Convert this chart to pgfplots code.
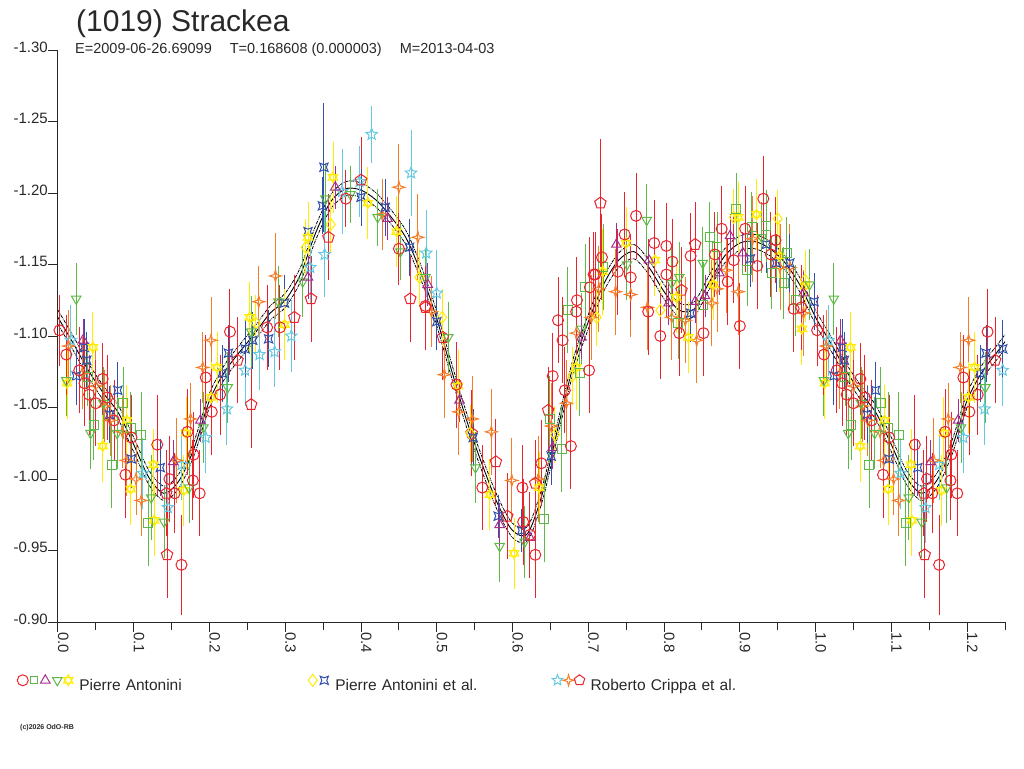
\documentclass[border=0pt]{standalone}
\usepackage{pgfplots}
\pgfplotsset{compat=1.18}
\usepackage{pgfplotstable}
\usepackage{fontspec}
\setmainfont{Liberation Sans}
\usetikzlibrary{plotmarks}

\definecolor{cRed}{RGB}{235,35,45}
\definecolor{cGreen}{RGB}{95,185,70}
\definecolor{cPurple}{RGB}{165,45,140}
\definecolor{cYellow}{RGB}{255,236,0}
\definecolor{cBlue}{RGB}{50,80,170}
\definecolor{cCyan}{RGB}{100,200,225}
\definecolor{cOrange}{RGB}{245,125,40}
\definecolor{cAxis}{RGB}{40,40,40}

\pgfdeclareplotmark{dtri}{%
  \pgfpathmoveto{\pgfpointpolar{270}{\pgfplotmarksize}}%
  \pgfpathlineto{\pgfpointpolar{30}{\pgfplotmarksize}}%
  \pgfpathlineto{\pgfpointpolar{150}{\pgfplotmarksize}}%
  \pgfpathclose\pgfusepathqstroke}
\pgfdeclareplotmark{sixstar}{%
  \pgfpathmoveto{\pgfpointpolar{90}{\pgfplotmarksize}}%
  \pgfpathlineto{\pgfpointpolar{210}{\pgfplotmarksize}}%
  \pgfpathlineto{\pgfpointpolar{330}{\pgfplotmarksize}}%
  \pgfpathclose
  \pgfpathmoveto{\pgfpointpolar{270}{\pgfplotmarksize}}%
  \pgfpathlineto{\pgfpointpolar{30}{\pgfplotmarksize}}%
  \pgfpathlineto{\pgfpointpolar{150}{\pgfplotmarksize}}%
  \pgfpathclose\pgfusepathqstroke}
\pgfdeclareplotmark{fourstar}{%
  \pgfpathmoveto{\pgfpoint{0pt}{\pgfplotmarksize}}%
  \pgfpathlineto{\pgfpoint{0.22\pgfplotmarksize}{0.22\pgfplotmarksize}}%
  \pgfpathlineto{\pgfpoint{\pgfplotmarksize}{0pt}}%
  \pgfpathlineto{\pgfpoint{0.22\pgfplotmarksize}{-0.22\pgfplotmarksize}}%
  \pgfpathlineto{\pgfpoint{0pt}{-\pgfplotmarksize}}%
  \pgfpathlineto{\pgfpoint{-0.22\pgfplotmarksize}{-0.22\pgfplotmarksize}}%
  \pgfpathlineto{\pgfpoint{-\pgfplotmarksize}{0pt}}%
  \pgfpathlineto{\pgfpoint{-0.22\pgfplotmarksize}{0.22\pgfplotmarksize}}%
  \pgfpathclose\pgfusepathqstroke}
\pgfdeclareplotmark{cquad}{%
  \pgfpathmoveto{\pgfpoint{0.75\pgfplotmarksize}{0.75\pgfplotmarksize}}%
  \pgfpathlineto{\pgfpoint{0pt}{0.45\pgfplotmarksize}}%
  \pgfpathlineto{\pgfpoint{-0.75\pgfplotmarksize}{0.75\pgfplotmarksize}}%
  \pgfpathlineto{\pgfpoint{-0.45\pgfplotmarksize}{0pt}}%
  \pgfpathlineto{\pgfpoint{-0.75\pgfplotmarksize}{-0.75\pgfplotmarksize}}%
  \pgfpathlineto{\pgfpoint{0pt}{-0.45\pgfplotmarksize}}%
  \pgfpathlineto{\pgfpoint{0.75\pgfplotmarksize}{-0.75\pgfplotmarksize}}%
  \pgfpathlineto{\pgfpoint{0.45\pgfplotmarksize}{0pt}}%
  \pgfpathclose\pgfusepathqstroke}
\pgfdeclareplotmark{ostar}{%
  \pgfpathmoveto{\pgfpointpolar{90}{\pgfplotmarksize}}%
  \pgfpathlineto{\pgfpointpolar{126}{0.45\pgfplotmarksize}}%
  \pgfpathlineto{\pgfpointpolar{162}{\pgfplotmarksize}}%
  \pgfpathlineto{\pgfpointpolar{198}{0.45\pgfplotmarksize}}%
  \pgfpathlineto{\pgfpointpolar{234}{\pgfplotmarksize}}%
  \pgfpathlineto{\pgfpointpolar{270}{0.45\pgfplotmarksize}}%
  \pgfpathlineto{\pgfpointpolar{306}{\pgfplotmarksize}}%
  \pgfpathlineto{\pgfpointpolar{342}{0.45\pgfplotmarksize}}%
  \pgfpathlineto{\pgfpointpolar{18}{\pgfplotmarksize}}%
  \pgfpathlineto{\pgfpointpolar{54}{0.45\pgfplotmarksize}}%
  \pgfpathclose\pgfusepathqstroke}

\newcommand{\lm}[4]{\begin{scope}[shift={(#3,5pt)}]\pgfsetstrokecolor{#1}\pgfsetlinewidth{1pt}\pgfplotmarksize=#4\relax\pgfuseplotmark{#2}\end{scope}}

% Fitted curve (phase, reduced magnitude)
\pgfplotstableread{
x y
0.00 -1.113
0.02 -1.095
0.04 -1.076
0.06 -1.060
0.08 -1.046
0.10 -1.024
0.12 -1.001
0.14 -0.990
0.16 -0.999
0.18 -1.022
0.20 -1.055
0.22 -1.075
0.24 -1.089
0.26 -1.102
0.28 -1.116
0.30 -1.125
0.32 -1.143
0.34 -1.172
0.36 -1.194
0.38 -1.203
0.40 -1.202
0.42 -1.195
0.44 -1.183
0.46 -1.168
0.48 -1.143
0.50 -1.112
0.52 -1.075
0.54 -1.040
0.56 -1.010
0.58 -0.983
0.60 -0.964
0.62 -0.962
0.64 -0.991
0.66 -1.036
0.68 -1.079
0.70 -1.110
0.72 -1.136
0.74 -1.153
0.76 -1.159
0.78 -1.148
0.80 -1.131
0.82 -1.118
0.84 -1.119
0.86 -1.138
0.88 -1.156
0.90 -1.165
0.92 -1.166
0.94 -1.161
0.96 -1.151
0.98 -1.135
1.00 -1.113
1.02 -1.095
1.04 -1.076
1.06 -1.060
1.08 -1.046
1.10 -1.024
1.12 -1.001
1.14 -0.990
1.16 -0.999
1.18 -1.022
1.20 -1.055
1.22 -1.075
1.24 -1.089
1.25 -1.096
}\tCurve

% Pierre Antonini: red circles
\pgfplotstableread{
x y e
0.002 -1.104 0.025
0.011 -1.087 0.028
0.028 -1.076 0.030
0.035 -1.067 0.030
0.041 -1.059 0.028
0.050 -1.053 0.030
0.059 -1.070 0.025
0.065 -1.057 0.030
0.074 -1.041 0.028
0.089 -1.003 0.030
0.097 -1.029 0.030
0.131 -1.024 0.035
0.147 -1.000 0.030
0.154 -0.990 0.028
0.163 -0.940 0.035
0.171 -1.033 0.030
0.178 -0.999 0.028
0.179 -1.017 0.030
0.187 -0.990 0.030
0.195 -1.071 0.030
0.203 -1.047 0.030
0.214 -1.059 0.028
0.227 -1.103 0.030
0.276 -1.106 0.030
0.293 -1.106 0.030
0.380 -1.196 0.020
0.450 -1.161 0.025
0.485 -1.121 0.028
0.526 -1.066 0.030
0.560 -0.994 0.030
0.613 -0.994 0.030
0.614 -0.970 0.030
0.623 -0.961 0.030
0.630 -0.947 0.030
0.638 -1.011 0.030
0.653 -1.072 0.030
0.660 -1.111 0.030
0.666 -1.097 0.030
0.669 -1.062 0.030
0.677 -1.023 0.030
0.684 -1.117 0.030
0.685 -1.125 0.030
0.701 -1.076 0.030
0.702 -1.134 0.035
0.707 -1.143 0.030
0.709 -1.143 0.030
0.718 -1.155 0.030
0.739 -1.145 0.030
0.748 -1.171 0.030
0.756 -1.141 0.030
0.763 -1.184 0.030
0.779 -1.117 0.030
0.787 -1.165 0.030
0.795 -1.100 0.030
0.803 -1.163 0.030
0.803 -1.143 0.030
0.811 -1.152 0.030
0.820 -1.102 0.030
0.835 -1.156 0.030
0.852 -1.102 0.030
0.867 -1.157 0.030
0.876 -1.175 0.030
0.884 -1.138 0.030
0.892 -1.153 0.030
0.900 -1.107 0.030
0.907 -1.175 0.030
0.923 -1.149 0.030
0.931 -1.196 0.030
0.941 -1.157 0.030
0.947 -1.167 0.030
0.971 -1.119 0.030
0.981 -1.120 0.030
}\tRedC

% green squares
\pgfplotstableread{
x y e
0.039 -1.071 0.020
0.047 -1.038 0.025
0.071 -1.010 0.030
0.086 -1.053 0.025
0.096 -1.036 0.025
0.110 -1.031 0.030
0.119 -0.969 0.030
0.642 -0.972 0.030
0.649 -1.042 0.030
0.665 -1.021 0.030
0.673 -1.118 0.030
0.689 -1.074 0.030
0.696 -1.134 0.030
0.720 -1.148 0.030
0.819 -1.109 0.025
0.852 -1.122 0.030
0.860 -1.169 0.025
0.870 -1.162 0.025
0.895 -1.189 0.025
0.910 -1.146 0.025
0.916 -1.176 0.025
0.935 -1.177 0.025
0.942 -1.144 0.025
0.958 -1.137 0.025
0.962 -1.158 0.025
0.974 -1.125 0.025
}\tGreenS

% purple triangles
\pgfplotstableread{
x y e
0.033 -1.097 0.015
0.152 -1.012 0.015
0.188 -1.041 0.015
0.330 -1.141 0.015
0.366 -1.204 0.015
0.435 -1.182 0.015
0.488 -1.136 0.015
0.530 -1.055 0.015
0.583 -0.968 0.015
0.623 -0.959 0.015
0.653 -1.022 0.015
0.691 -1.099 0.015
0.737 -1.164 0.015
0.780 -1.153 0.015
0.806 -1.123 0.015
0.841 -1.124 0.015
0.854 -1.128 0.015
0.873 -1.144 0.015
0.887 -1.170 0.015
0.904 -1.158 0.015
0.984 -1.130 0.015
}\tPurpT

% green down triangles
\pgfplotstableread{
x y e
0.011 -1.069 0.025
0.024 -1.126 0.025
0.043 -1.032 0.025
0.060 -1.053 0.025
0.078 -1.032 0.025
0.123 -0.987 0.030
0.140 -0.970 0.025
0.173 -0.994 0.025
0.192 -1.036 0.025
0.224 -1.064 0.025
0.255 -1.103 0.025
0.291 -1.124 0.025
0.323 -1.138 0.025
0.353 -1.196 0.025
0.386 -1.199 0.020
0.422 -1.183 0.020
0.452 -1.159 0.020
0.485 -1.141 0.020
0.515 -1.099 0.025
0.551 -1.008 0.025
0.583 -0.953 0.025
0.616 -0.956 0.025
0.691 -1.105 0.025
0.751 -1.150 0.025
0.777 -1.181 0.025
0.810 -1.137 0.025
0.820 -1.141 0.025
0.851 -1.151 0.025
0.929 -1.169 0.025
0.992 -1.136 0.025
}\tGreenD

% yellow six-pointed stars
\pgfplotstableread{
x y e
0.012 -1.067 0.025
0.046 -1.092 0.025
0.059 -1.023 0.025
0.091 -1.041 0.025
0.096 -0.993 0.025
0.126 -1.010 0.025
0.127 -0.971 0.025
0.166 -0.992 0.025
0.169 -1.032 0.025
0.202 -1.057 0.025
0.210 -1.078 0.025
0.253 -1.113 0.025
0.299 -1.108 0.025
0.330 -1.169 0.025
0.363 -1.211 0.025
0.409 -1.193 0.025
0.447 -1.173 0.025
0.528 -1.065 0.025
0.570 -0.989 0.025
0.602 -0.948 0.025
0.635 -0.994 0.025
0.684 -1.078 0.030
0.719 -1.145 0.030
0.750 -1.165 0.025
0.788 -1.153 0.025
0.816 -1.127 0.025
0.832 -1.099 0.025
0.865 -1.136 0.025
0.898 -1.183 0.025
0.922 -1.185 0.025
0.952 -1.156 0.025
0.982 -1.105 0.025
0.986 -1.135 0.025
}\tYellowS

% Pierre Antonini et al.: yellow diamonds
\pgfplotstableread{
x y e
0.261 -1.109 0.020
0.327 -1.162 0.020
0.360 -1.178 0.020
0.477 -1.141 0.020
0.507 -1.113 0.020
0.544 -1.032 0.020
0.656 -1.031 0.020
0.679 -1.072 0.020
0.711 -1.113 0.020
0.795 -1.118 0.020
0.892 -1.183 0.020
0.950 -1.182 0.020
0.986 -1.139 0.020
}\tYellowD

% blue marks
\pgfplotstableread{
x y e
0.024 -1.072 0.020
0.035 -1.092 0.020
0.038 -1.083 0.020
0.068 -1.045 0.020
0.079 -1.062 0.020
0.097 -1.014 0.020
0.135 -1.008 0.020
0.217 -1.074 0.020
0.225 -1.088 0.020
0.247 -1.091 0.020
0.257 -1.097 0.020
0.278 -1.098 0.020
0.299 -1.123 0.020
0.330 -1.173 0.020
0.349 -1.191 0.020
0.351 -1.218 0.045
0.400 -1.197 0.020
0.432 -1.190 0.020
0.464 -1.162 0.020
0.500 -1.110 0.020
0.548 -1.029 0.020
0.581 -0.974 0.015
0.612 -0.964 0.015
0.651 -1.016 0.020
0.835 -1.116 0.020
0.914 -1.154 0.020
0.935 -1.164 0.020
0.948 -1.151 0.020
0.966 -1.151 0.020
0.998 -1.124 0.020
}\tBlue

% Roberto Crippa et al.: cyan stars
\pgfplotstableread{
x y e
0.017 -1.097 0.025
0.112 -1.004 0.025
0.145 -0.980 0.025
0.163 -1.010 0.025
0.195 -1.029 0.025
0.223 -1.049 0.025
0.247 -1.076 0.025
0.266 -1.087 0.025
0.286 -1.089 0.025
0.308 -1.100 0.025
0.333 -1.148 0.025
0.352 -1.157 0.030
0.375 -1.201 0.030
0.398 -1.208 0.025
0.414 -1.241 0.020
0.466 -1.214 0.030
0.486 -1.158 0.030
0.500 -1.130 0.030
}\tCyan

% orange four-pointed stars
\pgfplotstableread{
x y e
0.014 -1.093 0.025
0.032 -1.074 0.025
0.050 -1.065 0.025
0.062 -1.051 0.025
0.069 -1.041 0.025
0.085 -1.033 0.025
0.090 -1.013 0.025
0.103 -1.000 0.025
0.110 -0.985 0.025
0.156 -1.013 0.030
0.175 -1.042 0.025
0.191 -1.078 0.025
0.202 -1.097 0.030
0.265 -1.124 0.025
0.287 -1.142 0.030
0.428 -1.185 0.025
0.450 -1.204 0.030
0.475 -1.169 0.030
0.493 -1.117 0.025
0.510 -1.073 0.030
0.529 -1.047 0.030
0.547 -1.042 0.030
0.572 -1.033 0.030
0.599 -0.999 0.030
0.634 -1.000 0.030
0.651 -1.037 0.030
0.671 -1.053 0.030
0.684 -1.102 0.030
0.704 -1.113 0.030
0.714 -1.133 0.030
0.736 -1.131 0.030
0.756 -1.129 0.030
0.778 -1.120 0.030
0.810 -1.113 0.030
0.828 -1.111 0.030
0.843 -1.097 0.030
0.863 -1.123 0.030
0.870 -1.133 0.030
0.882 -1.146 0.030
0.898 -1.131 0.030
0.917 -1.168 0.030
0.953 -1.148 0.030
0.966 -1.148 0.030
0.984 -1.116 0.030
}\tOrange

% red pentagons
\pgfplotstableread{
x y e
0.143 -0.990 0.030
0.144 -0.947 0.030
0.237 -1.083 0.030
0.255 -1.052 0.030
0.312 -1.113 0.030
0.334 -1.126 0.030
0.357 -1.169 0.030
0.400 -1.209 0.030
0.465 -1.126 0.030
0.485 -1.120 0.030
0.508 -1.099 0.030
0.546 -1.032 0.030
0.578 -1.012 0.030
0.593 -0.974 0.030
0.630 -0.997 0.030
0.647 -1.048 0.030
0.716 -1.193 0.045
0.823 -1.132 0.030
0.841 -1.164 0.030
}\tRedP

\pgfplotsset{
  ser/.style n args={3}{only marks, mark=#2, color=#1, mark size=#3,
    mark options={line width=1pt, solid, fill=none},
    error bars/.cd, y dir=both, y explicit, error mark=none,
    error bar style={line width=1pt, #1, solid}},
}
\newcommand{\series}[4]{%
  \addplot[forget plot, ser={#2}{#3}{#4}] table[x=x, y=y, y error=e] {#1};
  \addplot[forget plot, restrict x to domain=1:1.252, ser={#2}{#3}{#4}]
     table[x expr=\thisrow{x}+1, y=y, y error=e] {#1};
}

\begin{document}
\begin{tikzpicture}
\path[use as bounding box] (0pt,0pt) rectangle (1024pt,768pt);
\begin{axis}[
  at={(58pt,146pt)}, anchor=south west,
  scale only axis, width=947pt, height=572pt,
  xmin=0, xmax=1.25, ymin=-1.30, ymax=-0.90, y dir=reverse,
  axis lines=left, axis line style={-, line width=1pt, cAxis},
  clip=false,
  xtick={0,0.1,0.2,0.3,0.4,0.5,0.6,0.7,0.8,0.9,1.0,1.1,1.2},
  xticklabels={0.0,0.1,0.2,0.3,0.4,0.5,0.6,0.7,0.8,0.9,1.0,1.1,1.2},
  minor xtick={0.05,0.15,0.25,0.35,0.45,0.55,0.65,0.75,0.85,0.95,1.05,1.15,1.25},
  ytick={-1.30,-1.25,-1.20,-1.15,-1.10,-1.05,-1.00,-0.95,-0.90},
  yticklabels={-1.30,-1.25,-1.20,-1.15,-1.10,-1.05,-1.00,-0.95,-0.90},
  tick align=outside, major tick length=10pt, minor tick length=8pt,
  every tick/.style={line width=1pt, cAxis},
  tick label style={font=\fontsize{15}{15}\selectfont, text=cAxis},
  yticklabel style={anchor=base east, inner sep=0pt, yshift=-2pt},
  xticklabel style={rotate=-90, anchor=base west, inner sep=0pt},
  legend columns=3,
  legend cell align=left,
  legend style={at={(-0.043,-0.1066)}, anchor=west, draw=none, fill=none,
     inner sep=0pt, outer sep=0pt, column sep=0pt,
     font=\fontsize{15.5}{15.5}\selectfont, text=cAxis,
     nodes={inner sep=0pt}},
]
% fitted curves
\addplot[forget plot, black, line width=0.9pt, smooth, tension=0.5] table[x=x,y=y] {\tCurve};
\addplot[forget plot, black, line width=0.8pt, densely dashdotted, smooth, tension=0.5] table[x=x, y expr=\thisrow{y}-0.005] {\tCurve};
\addplot[forget plot, black, line width=0.8pt, densely dashdotted, smooth, tension=0.5] table[x=x, y expr=\thisrow{y}+0.005] {\tCurve};

\series{\tCyan}{cCyan}{ostar}{6pt}
\series{\tOrange}{cOrange}{fourstar}{6pt}
\series{\tRedP}{cRed}{pentagon}{6pt}
\series{\tYellowD}{cYellow}{diamond}{6pt}
\series{\tBlue}{cBlue}{cquad}{5.5pt}
\series{\tYellowS}{cYellow}{sixstar}{5.5pt}
\series{\tGreenD}{cGreen}{dtri}{5.5pt}
\series{\tPurpT}{cPurple}{triangle}{5.5pt}
\series{\tGreenS}{cGreen}{square}{4.5pt}
\series{\tRedC}{cRed}{o}{5.5pt}

\addlegendimage{legend image code/.code={%
  \path[draw=none, fill=none] (0pt,-1pt) rectangle (62pt,11pt);
  \lm{cRed}{o}{5.5pt}{5.5pt}
  \lm{cGreen}{square}{17pt}{3.5pt}
  \lm{cPurple}{triangle}{28pt}{5.5pt}
  \lm{cGreen}{dtri}{40pt}{5.5pt}
  \lm{cYellow}{sixstar}{51pt}{5.5pt}}}
\addlegendentry[text width=228pt]{Pierre Antonini}
\addlegendimage{legend image code/.code={%
  \path[draw=none, fill=none] (0pt,-1pt) rectangle (28pt,11pt);
  \lm{cYellow}{diamond}{5.5pt}{6pt}
  \lm{cBlue}{cquad}{17pt}{5.5pt}}}
\addlegendentry[text width=217pt]{Pierre Antonini et al.}
\addlegendimage{legend image code/.code={%
  \path[draw=none, fill=none] (0pt,-1pt) rectangle (38pt,11pt);
  \lm{cCyan}{ostar}{5pt}{5.5pt}
  \lm{cOrange}{fourstar}{16pt}{5.5pt}
  \lm{cRed}{pentagon}{27pt}{5.5pt}}}
\addlegendentry[text width=160pt]{Roberto Crippa et al.}
\end{axis}
\node[anchor=base west, inner sep=0pt, font=\fontsize{30}{30}\selectfont, text=cAxis] at (76pt,736pt) {(1019) Strackea};
\node[anchor=base west, inner sep=0pt, font=\fontsize{14.5}{14.5}\selectfont, text=cAxis] at (75pt,714pt)
  {E=2009-06-26.69099\hspace{18pt}T=0.168608 (0.000003)\hspace{18pt}M=2013-04-03};
\node[anchor=base west, inner sep=0pt, font=\fontsize{7}{7}\selectfont\bfseries, text=cAxis] at (20pt,39pt) {(c)2026 OdO-RB};
\end{tikzpicture}
\end{document}
